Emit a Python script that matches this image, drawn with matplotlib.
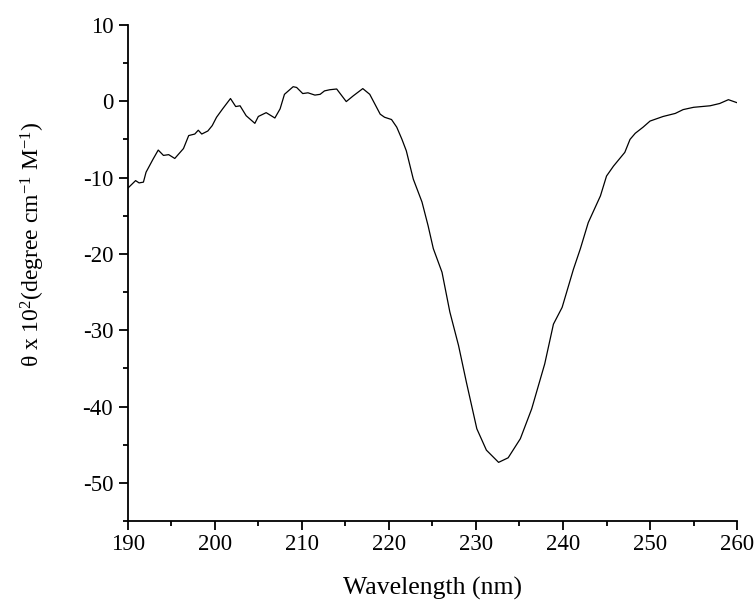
import matplotlib
matplotlib.use("Agg")
import matplotlib.pyplot as plt
from matplotlib.ticker import MultipleLocator

plt.rcParams["font.family"] = ["Liberation Serif", "DejaVu Serif"]
plt.rcParams["mathtext.fontset"] = "custom"
plt.rcParams["mathtext.rm"] = "Liberation Serif"
plt.rcParams["mathtext.it"] = "Liberation Serif:italic"
plt.rcParams["axes.unicode_minus"] = False

# CD spectrum
wavelength = [190.0, 190.9, 191.3, 191.8, 192.1, 192.9, 193.5, 194.1, 194.7, 195.4,
              196.4, 197.0, 197.7, 198.1, 198.5, 199.2, 199.7, 200.2, 200.9, 201.8,
              202.4, 202.9, 203.6, 204.6, 205.0, 205.9, 206.9, 207.5, 208.0, 209.0,
              209.4, 210.1, 210.7, 211.5, 212.1, 212.6, 213.2, 214.0, 215.1, 215.9,
              217.0, 217.8, 219.0, 219.5, 220.3, 220.9, 221.5, 222.0, 222.8, 223.8,
              224.5, 225.1, 226.1, 227.0, 228.0, 228.9, 230.1, 231.2, 232.6, 233.7,
              235.1, 236.4, 237.9, 238.9, 239.9, 241.2, 242.0, 242.9, 244.3, 245.0,
              245.8, 247.1, 247.7, 248.3, 249.2, 250.0, 251.5, 252.9, 253.8, 255.0,
              256.9, 258.0, 259.0, 260.0]
theta = [-11.4, -10.4, -10.7, -10.6, -9.3, -7.6, -6.4, -7.1, -7.0, -7.5,
         -6.2, -4.5, -4.3, -3.8, -4.3, -3.9, -3.2, -2.1, -1.0, 0.35,
         -0.7, -0.6, -1.9, -2.9, -2.0, -1.5, -2.2, -1.0, 0.9, 1.9,
         1.8, 1.0, 1.1, 0.8, 0.9, 1.35, 1.5, 1.6, -0.05, 0.7,
         1.65, 0.9, -1.7, -2.1, -2.4, -3.4, -5.0, -6.5, -10.2, -13.2,
         -16.3, -19.3, -22.4, -27.6, -32.0, -36.8, -42.9, -45.7, -47.3, -46.7,
         -44.2, -40.3, -34.4, -29.2, -27.0, -22.0, -19.3, -15.9, -12.4, -9.8,
         -8.5, -6.7, -5.0, -4.2, -3.4, -2.6, -2.0, -1.6, -1.1, -0.8,
         -0.6, -0.3, 0.2, -0.2]

fig = plt.figure(figsize=(7.56, 6.06), dpi=100)
ax = fig.add_axes([0.169, 0.140, 0.806, 0.819])
ax.plot(wavelength, theta, color="black", linewidth=0.9)

ax.set_xlim(190, 260)
ax.set_ylim(-55, 10)
ax.xaxis.set_major_locator(MultipleLocator(10))
ax.xaxis.set_minor_locator(MultipleLocator(5))
ax.yaxis.set_major_locator(MultipleLocator(10))
ax.yaxis.set_minor_locator(MultipleLocator(5))

for s in ("top", "right"):
    ax.spines[s].set_visible(False)
for s in ("left", "bottom"):
    ax.spines[s].set_linewidth(1.3)

ax.tick_params(which="major", direction="out", length=6.5, width=1.3, labelsize=16.5)
ax.tick_params(which="minor", direction="out", length=3.5, width=1.3)
ax.tick_params(axis="x", pad=2.5)
ax.tick_params(axis="y", pad=4)

ax.set_xlabel("Wavelength (nm)", fontsize=18.5)
ax.xaxis.set_label_coords(0.5, -0.112)
ax.set_ylabel(r"θ x 10$^{2}$(degree cm$^{-1}$ M$^{-1}$)", fontsize=17)
ax.yaxis.set_label_coords(-0.133, 0.5585)

fig.savefig("out.png", dpi=100)
